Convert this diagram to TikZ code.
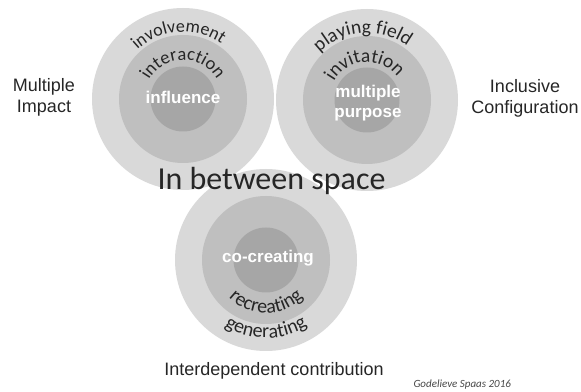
\documentclass[tikz,border=0pt]{standalone}
\usepackage{fontspec}
\setmainfont{Liberation Sans}
\newfontfamily\carlito{Carlito}
\usetikzlibrary{decorations.text}
\definecolor{ringA}{HTML}{D9D9D9}
\definecolor{ringB}{HTML}{BFBFBF}
\definecolor{ringC}{HTML}{A6A6A6}
\definecolor{txt}{HTML}{262626}
\newcommand\arcfont[1]{\carlito\fontsize{#1}{24}\selectfont\color{txt}}
\begin{document}
\begin{tikzpicture}[x=1pt,y=1pt,
  outerc/.style={circle, fill=ringA, minimum size=182pt, inner sep=0pt},
  midc/.style={circle, fill=ringB, minimum size=128pt, inner sep=0pt},
  innc/.style={circle, fill=ringC, minimum size=65pt, inner sep=0pt},
  side/.style={font=\fontsize{18}{21}\selectfont, text=txt, align=center},
  core/.style={font=\bfseries\fontsize{17}{20}\selectfont, text=white, align=center},
  arctext/.style={decorate, decoration={text along path, text align=center, text={#1}}}
]
\useasboundingbox (0,0) rectangle (581,391);
% circles
\node[outerc] (c1o) at (183,292) {};
\node[outerc] (c2o) at (367,291) {};
\node[outerc] (c3o) at (266,131) {};
\node[midc] (c1m) at (183,292) {};
\node[midc] (c2m) at (367,291) {};
\node[midc] (c3m) at (266,131) {};
\node[innc] (c1i) at (183,292) {};
\node[innc] (c2i) at (367,291) {};
\node[innc] (c3i) at (266,131) {};
% curved texts
\path[arctext={|\arcfont{18}|involvement}] (c1o.center) ++(174:67) arc[start angle=174, end angle=14, radius=67];
\path[arctext={|\arcfont{18.5}|interaction}] (c1o.center) ++(180:39) arc[start angle=180, end angle=0, radius=39];
\path[arctext={|\arcfont{19.5}|playing field}] (c2o.center) ++(174:67) arc[start angle=174, end angle=14, radius=67];
\path[arctext={|\arcfont{19.5}|invitation}] (c2o.center) ++(184:38) arc[start angle=184, end angle=4, radius=38];
\path[arctext={|\arcfont{20}|recreating}] (c3o.center) ++(180:53) arc[start angle=180, end angle=360, radius=53];
\path[arctext={|\arcfont{20}|generating}] (c3o.center) ++(180:78) arc[start angle=180, end angle=360, radius=78];
% core labels
\node[core, anchor=base] (l1) at (183,287) {influence};
\node[core, anchor=base] (l2a) at (368,293) {multiple};
\node[core, anchor=base] (l2b) at (368,273) {purpose};
\node[core, anchor=base] (l3) at (268,128) {co-creating};
% title
\node[anchor=base, text=txt, font=\carlito\fontsize{32}{36}\selectfont] (title) at (271.5,201) {In between space};
% side labels
\node[side] (sL) at (44,293.5) {Multiple\\Impact};
\node[side] (sR) at (525,293) {Inclusive\\Configuration};
\node[side, anchor=base] (sB) at (274,16) {Interdependent contribution};
\node[anchor=base west, text=txt!85, font=\carlito\itshape\fontsize{11}{13}\selectfont] (credit) at (410,4) {Godelieve Spaas 2016};
\end{tikzpicture}
\end{document}
